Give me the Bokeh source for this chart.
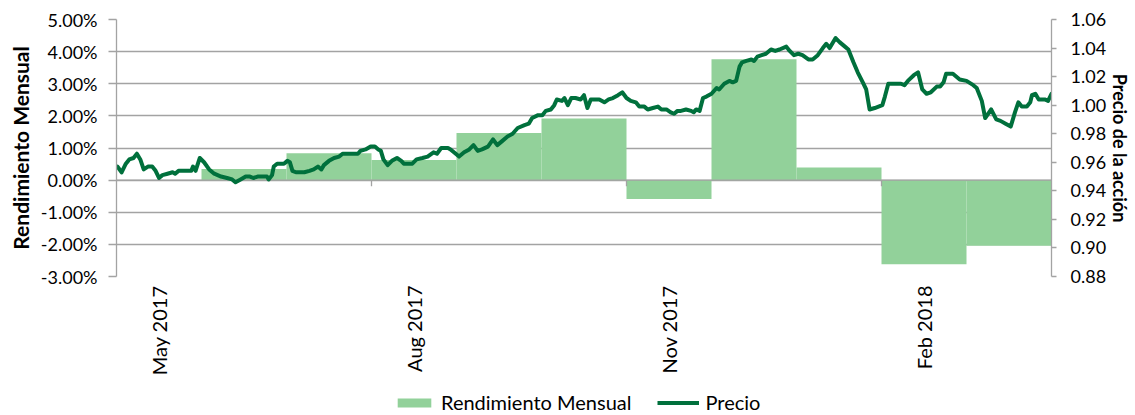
import math
from bokeh.plotting import figure
from bokeh.layouts import column
from bokeh.models import (Range1d, LinearAxis, FixedTicker, PrintfTickFormatter,
                          Legend, LegendItem)
from bokeh.embed import file_html
from bokeh.resources import INLINE

# ---------------- data ----------------
months = ["May 2017", "Jun 2017", "Jul 2017", "Aug 2017", "Sep 2017", "Oct 2017",
          "Nov 2017", "Dec 2017", "Jan 2018", "Feb 2018", "Mar 2018"]
monthly_return_pct = [None, 0.35, 0.84, 0.63, 1.47, 1.92, -0.59, 3.76, 0.39, -2.62, -2.04]

labelled_months = ["May 2017", "Aug 2017", "Nov 2017", "Feb 2018"]

# position of each price reading, in months from the start of May 2017
price_month_pos = [
    0.01, 0.06, 0.11, 0.15, 0.20, 0.24, 0.28, 0.32, 0.37, 0.42,
    0.46, 0.50, 0.54, 0.60, 0.66, 0.69, 0.73, 0.77, 0.83, 0.88,
    0.90, 0.93, 0.98, 1.03, 1.09, 1.15, 1.23, 1.30, 1.36, 1.40,
    1.46, 1.52, 1.57, 1.61, 1.66, 1.72, 1.77, 1.79, 1.83, 1.85,
    1.89, 1.94, 1.97, 2.01, 2.04, 2.07, 2.11, 2.17, 2.21, 2.27,
    2.32, 2.37, 2.41, 2.44, 2.50, 2.56, 2.62, 2.66, 2.74, 2.84,
    2.87, 2.93, 2.99, 3.04, 3.08, 3.11, 3.14, 3.19, 3.24, 3.30,
    3.35, 3.38, 3.48, 3.53, 3.60, 3.66, 3.73, 3.77, 3.82, 3.90,
    3.93, 3.97, 4.03, 4.09, 4.15, 4.20, 4.25, 4.30, 4.37, 4.43,
    4.48, 4.54, 4.60, 4.66, 4.72, 4.80, 4.85, 4.89, 4.96, 5.01,
    5.05, 5.11, 5.15, 5.18, 5.24, 5.27, 5.31, 5.35, 5.40, 5.46,
    5.50, 5.54, 5.58, 5.62, 5.68, 5.74, 5.79, 5.84, 5.90, 5.95,
    6.00, 6.05, 6.11, 6.15, 6.21, 6.25, 6.31, 6.37, 6.41, 6.47,
    6.52, 6.56, 6.60, 6.64, 6.70, 6.76, 6.79, 6.82, 6.86, 6.90,
    6.94, 7.00, 7.06, 7.09, 7.15, 7.21, 7.25, 7.29, 7.33, 7.36,
    7.41, 7.47, 7.50, 7.54, 7.59, 7.64, 7.70, 7.75, 7.80, 7.88,
    7.92, 7.97, 8.02, 8.07, 8.14, 8.19, 8.25, 8.31, 8.35, 8.39,
    8.46, 8.51, 8.57, 8.61, 8.67, 8.72, 8.78, 8.82, 8.86, 8.92,
    9.01, 9.04, 9.08, 9.16, 9.23, 9.27, 9.31, 9.38, 9.43, 9.48,
    9.53, 9.58, 9.65, 9.69, 9.73, 9.76, 9.84, 9.92, 10.00, 10.08,
    10.12, 10.18, 10.22, 10.29, 10.35, 10.40, 10.46, 10.52, 10.57, 10.61,
    10.65, 10.71, 10.75, 10.77, 10.81, 10.85, 10.92, 10.96, 11.00,
]
price = [
    0.957, 0.953, 0.959, 0.962, 0.963, 0.966, 0.962, 0.955, 0.957, 0.957,
    0.954, 0.949, 0.951, 0.952, 0.953, 0.952, 0.954, 0.954, 0.954, 0.954,
    0.957, 0.954, 0.963, 0.960, 0.955, 0.952, 0.950, 0.949, 0.948, 0.946,
    0.948, 0.950, 0.950, 0.949, 0.950, 0.950, 0.950, 0.948, 0.951, 0.957,
    0.959, 0.959, 0.959, 0.961, 0.960, 0.954, 0.953, 0.953, 0.953, 0.954,
    0.955, 0.957, 0.955, 0.958, 0.961, 0.963, 0.964, 0.966, 0.966, 0.966,
    0.968, 0.969, 0.971, 0.971, 0.969, 0.968, 0.962, 0.958, 0.961, 0.963,
    0.961, 0.959, 0.959, 0.962, 0.963, 0.964, 0.967, 0.966, 0.970, 0.970,
    0.969, 0.967, 0.964, 0.967, 0.969, 0.972, 0.968, 0.969, 0.971, 0.976,
    0.972, 0.975, 0.978, 0.980, 0.984, 0.986, 0.987, 0.991, 0.993, 0.993,
    0.996, 0.997, 1.000, 1.004, 1.003, 1.005, 1.000, 1.005, 1.005, 1.004,
    1.007, 0.998, 1.004, 1.004, 1.004, 1.002, 1.004, 1.005, 1.007, 1.009,
    1.005, 1.003, 1.002, 0.999, 0.999, 0.997, 0.998, 0.999, 0.997, 0.997,
    0.995, 0.994, 0.996, 0.996, 0.997, 0.996, 0.995, 0.997, 0.996, 1.005,
    1.006, 1.008, 1.012, 1.011, 1.015, 1.017, 1.016, 1.017, 1.027, 1.030,
    1.031, 1.032, 1.031, 1.034, 1.035, 1.036, 1.039, 1.038, 1.039, 1.041,
    1.038, 1.035, 1.036, 1.035, 1.032, 1.032, 1.035, 1.040, 1.043, 1.040,
    1.047, 1.044, 1.041, 1.039, 1.030, 1.023, 1.016, 1.011, 0.997, 0.998,
    1.000, 1.006, 1.015, 1.015, 1.015, 1.014, 1.017, 1.021, 1.023, 1.011,
    1.008, 1.009, 1.013, 1.013, 1.016, 1.022, 1.022, 1.018, 1.017, 1.014,
    1.012, 1.003, 0.991, 0.997, 0.990, 0.989, 0.987, 0.985, 0.995, 1.002,
    0.999, 0.999, 1.002, 1.007, 1.008, 1.004, 1.004, 1.003, 1.008,
]

return_ticks = [-3, -2, -1, 0, 1, 2, 3, 4, 5]
price_ticks = [0.88, 0.90, 0.92, 0.94, 0.96, 0.98, 1.00, 1.02, 1.04, 1.06]
legend_labels = ["Rendimiento Mensual", "Precio"]

# ---------------- style ----------------
FONT = "Lato"
TXT = "#000000"
GRID = "#a3a3a3"
BAR = "#92d19a"
LINE = "#00703c"
FRAME_H = 257
W = 1135
MAIN_H = 380
LEG_H = 35

p = figure(width=W, height=MAIN_H,
           min_border_left=116, min_border_right=84,
           min_border_top=19, min_border_bottom=MAIN_H - 19 - FRAME_H,
           x_range=Range1d(0, len(months)),
           y_range=Range1d(return_ticks[0], return_ticks[-1]),
           output_backend="svg", toolbar_location=None)
p.outline_line_color = None
p.background_fill_color = "white"
p.border_fill_color = "white"
p.xgrid.visible = False
p.ygrid.grid_line_color = GRID
p.ygrid.grid_line_width = 1.3

# bars (monthly return), one per month column
bar_x = [i + 0.5 for i, v in enumerate(monthly_return_pct) if v is not None]
bar_top = [v for v in monthly_return_pct if v is not None]
p.vbar(x=bar_x, top=bar_top, bottom=0, width=1.0, fill_color=BAR, line_color=None)

# zero line of the category axis, with its tick marks between label groups
tick_len = 6 * (return_ticks[-1] - return_ticks[0]) / FRAME_H
p.segment(x0=[0], y0=[0], x1=[len(months)], y1=[0], line_color=GRID, line_width=1.3)
quarter_marks = [months.index(m) for m in labelled_months[1:]]
p.segment(x0=quarter_marks, y0=[0] * len(quarter_marks), x1=quarter_marks,
          y1=[-tick_len] * len(quarter_marks), line_color=GRID, line_width=1.3)

# price line on the secondary axis
p.extra_y_ranges = {"price": Range1d(price_ticks[0], price_ticks[-1])}
p.line(price_month_pos, price, y_range_name="price", line_color=LINE,
       line_width=4, line_join="round", line_cap="round")

# left axis
ly = p.yaxis[0]
ly.ticker = FixedTicker(ticks=return_ticks)
ly.formatter = PrintfTickFormatter(format="%.2f%%")
ly.axis_line_color = GRID
ly.axis_line_width = 1.3
ly.major_tick_line_color = GRID
ly.major_tick_line_width = 1.3
ly.major_tick_out = 8
ly.major_tick_in = 0
ly.minor_tick_line_color = None
ly.major_label_standoff = 11
ly.major_label_text_font = FONT
ly.major_label_text_font_size = "18px"
ly.major_label_text_color = TXT
ly.axis_label = "Rendimiento Mensual"
ly.axis_label_text_font = FONT
ly.axis_label_text_font_style = "bold"
ly.axis_label_text_font_size = "21px"
ly.axis_label_text_color = TXT
ly.axis_label_standoff = 5

# right axis
ry = LinearAxis(y_range_name="price", ticker=FixedTicker(ticks=price_ticks),
                formatter=PrintfTickFormatter(format="%.2f"))
ry.axis_line_color = GRID
ry.axis_line_width = 1.3
ry.major_tick_line_color = GRID
ry.major_tick_line_width = 1.3
ry.major_tick_out = 5
ry.major_tick_in = 0
ry.minor_tick_line_color = None
ry.major_label_standoff = 14
ry.major_label_text_font = FONT
ry.major_label_text_font_size = "18px"
ry.major_label_text_color = TXT
ry.axis_label = "Precio de la acción"
ry.axis_label_text_font = FONT
ry.axis_label_text_font_style = "bold"
ry.axis_label_text_font_size = "18px"
ry.axis_label_text_color = TXT
ry.axis_label_standoff = 0
p.add_layout(ry, "right")

# bottom axis: labels centred in their month column, rotated
label_pos = [months.index(m) + 0.5 for m in labelled_months]
xa = p.xaxis[0]
xa.ticker = FixedTicker(ticks=label_pos)
xa.major_label_overrides = {pos: m for pos, m in zip(label_pos, labelled_months)}
xa.major_label_orientation = math.pi / 2
xa.axis_line_color = None
xa.major_tick_line_color = None
xa.minor_tick_line_color = None
xa.major_tick_out = 0
xa.major_label_standoff = 9
xa.major_label_text_font = FONT
xa.major_label_text_font_size = "20px"
xa.major_label_text_color = TXT

# ---------------- legend strip under the chart ----------------
lg = figure(width=W, height=LEG_H, x_range=Range1d(0, 1), y_range=Range1d(0, 1),
            min_border=0, x_axis_location=None, y_axis_location=None,
            output_backend="svg", toolbar_location=None)
lg.outline_line_color = None
lg.grid.visible = False
lg.background_fill_color = "white"
lg.border_fill_color = "white"
# styled stand-ins carrying the two series' looks into the legend (no visible data)
nan = float("nan")
bar_key = lg.vbar(x=[nan], top=[nan], width=1.0, fill_color=BAR, line_color=None)
line_key = lg.line(x=[nan], y=[nan], line_color=LINE, line_width=4)

legend = Legend(items=[LegendItem(label=legend_labels[0], renderers=[bar_key]),
                       LegendItem(label=legend_labels[1], renderers=[line_key])],
                orientation="horizontal", location=(277, 1),
                border_line_color=None, background_fill_alpha=0,
                label_text_font=FONT, label_text_font_size="20px",
                label_text_color=TXT, glyph_width=42, glyph_height=11,
                label_standoff=6, spacing=26, padding=0, margin=0,
                label_height=20)
lg.add_layout(legend, "center")

layout = column(p, lg, spacing=0)
open("out.html", "w").write(file_html(layout, INLINE))
